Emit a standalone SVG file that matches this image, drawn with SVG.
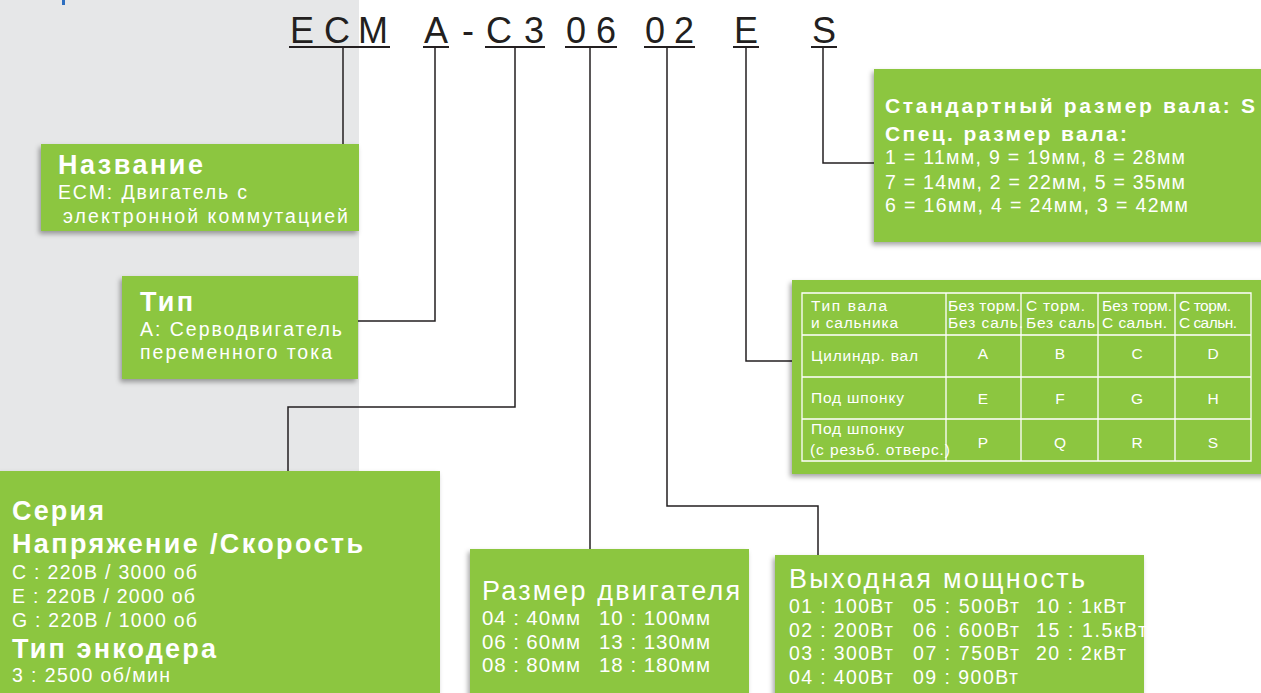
<svg xmlns="http://www.w3.org/2000/svg" width="1261" height="693" viewBox="0 0 1261 693">
<defs>
<filter id="sh" x="-10%" y="-10%" width="120%" height="130%">
<feDropShadow dx="-2" dy="3" stdDeviation="2.5" flood-color="#000" flood-opacity="0.35"/>
</filter>
<style>
.box{fill:#8cc63f;filter:url(#sh);}
.t{font-family:"Liberation Sans",Arial,sans-serif;fill:#fff;}
.b{font-weight:bold;font-size:27px;}
.r{font-size:19.5px;}
.s{font-size:15.5px;}
.code{font-family:"Liberation Sans",Arial,sans-serif;font-size:36px;fill:#231f20;}
.ul{stroke:#231f20;stroke-width:2.2;fill:none;}
.cn{stroke:#231f20;stroke-width:1.5;fill:none;}
.grid{stroke:#fff;stroke-width:1.3;fill:none;}
</style>
</defs>
<rect x="0" y="0" width="1261" height="693" fill="#fff"/>
<rect x="0" y="0" width="359" height="693" fill="#e6e7e8"/>
<rect x="62" y="0" width="3" height="5" fill="#2e6fc0"/>

<g id="code">
<text class="code" x="290 324 358" y="43">ECM</text>
<text class="code" x="424" y="43">A</text>
<text class="code" x="462" y="43">-</text>
<text class="code" x="486 524" y="43">C3</text>
<text class="code" x="566 596" y="43">06</text>
<text class="code" x="645 674" y="43">02</text>
<text class="code" x="734" y="43">E</text>
<text class="code" x="812" y="43">S</text>
<path class="ul" d="M289 47H390M423 47H449M485 47H545M565 47H617M644 47H695M733 47H759M811 47H837"/>
</g>

<g id="connectors">
<path class="cn" d="M343 47V144"/>
<path class="cn" d="M435 47V321H358"/>
<path class="cn" d="M515 47V407H288V471"/>
<path class="cn" d="M590 47V549"/>
<path class="cn" d="M667 47V506H818V555"/>
<path class="cn" d="M746 47V361H792"/>
<path class="cn" d="M823 47V163H874"/>
</g>

<g id="node-name">
<rect class="box" x="41" y="144" width="318" height="87"/>
<text class="t b" x="58" y="174" textLength="145" lengthAdjust="spacing">Название</text>
<text class="t r" x="58" y="199" textLength="189" lengthAdjust="spacing">ECM: Двигатель с</text>
<text class="t r" x="63" y="223" textLength="285" lengthAdjust="spacing">электронной коммутацией</text>
</g>

<g id="node-type">
<rect class="box" x="122" y="276" width="236" height="103"/>
<text class="t b" x="140" y="311" textLength="53" lengthAdjust="spacing">Тип</text>
<text class="t r" x="140" y="336" textLength="202" lengthAdjust="spacing">A: Серводвигатель</text>
<text class="t r" x="140" y="359" textLength="192" lengthAdjust="spacing">переменного тока</text>
</g>

<g id="node-series">
<rect class="box" x="0" y="471" width="440" height="230"/>
<text class="t b" x="12" y="520" textLength="92" lengthAdjust="spacing">Серия</text>
<text class="t b" x="12" y="553" textLength="351" lengthAdjust="spacing">Напряжение /Скорость</text>
<text class="t r" x="12" y="579" textLength="185" lengthAdjust="spacing">C : 220В / 3000 об</text>
<text class="t r" x="12" y="603" textLength="183" lengthAdjust="spacing">E : 220В / 2000 об</text>
<text class="t r" x="12" y="627" textLength="185" lengthAdjust="spacing">G : 220В / 1000 об</text>
<text class="t b" x="12" y="658" textLength="204" lengthAdjust="spacing">Тип энкодера</text>
<text class="t r" x="12" y="682" textLength="158" lengthAdjust="spacing">3 : 2500 об/мин</text>
</g>

<g id="node-size">
<rect class="box" x="470" y="549" width="279" height="150"/>
<text class="t" font-size="27" x="482" y="600" textLength="258" lengthAdjust="spacing">Размер двигателя</text>
<text class="t" font-size="20.5" x="482" y="625" textLength="98" lengthAdjust="spacing">04 : 40мм</text>
<text class="t" font-size="20.5" x="599" y="625" textLength="111" lengthAdjust="spacing">10 : 100мм</text>
<text class="t" font-size="20.5" x="482" y="649" textLength="98" lengthAdjust="spacing">06 : 60мм</text>
<text class="t" font-size="20.5" x="599" y="649" textLength="111" lengthAdjust="spacing">13 : 130мм</text>
<text class="t" font-size="20.5" x="482" y="672" textLength="98" lengthAdjust="spacing">08 : 80мм</text>
<text class="t" font-size="20.5" x="599" y="672" textLength="111" lengthAdjust="spacing">18 : 180мм</text>
</g>

<g id="node-power">
<rect class="box" x="775" y="555" width="369" height="144"/>
<text class="t" font-size="27" x="789" y="588" textLength="296" lengthAdjust="spacing">Выходная мощность</text>
<g font-size="19.5">
<text class="t" x="789" y="613" textLength="104" lengthAdjust="spacing">01 : 100Вт</text>
<text class="t" x="913" y="613" textLength="106" lengthAdjust="spacing">05 : 500Вт</text>
<text class="t" x="1036" y="613" textLength="90" lengthAdjust="spacing">10 : 1кВт</text>
<text class="t" x="789" y="637" textLength="104" lengthAdjust="spacing">02 : 200Вт</text>
<text class="t" x="913" y="637" textLength="106" lengthAdjust="spacing">06 : 600Вт</text>
<text class="t" x="1036" y="637" textLength="111" lengthAdjust="spacing">15 : 1.5кВт</text>
<text class="t" x="789" y="660" textLength="104" lengthAdjust="spacing">03 : 300Вт</text>
<text class="t" x="913" y="660" textLength="106" lengthAdjust="spacing">07 : 750Вт</text>
<text class="t" x="1036" y="660" textLength="90" lengthAdjust="spacing">20 : 2кВт</text>
<text class="t" x="789" y="684" textLength="104" lengthAdjust="spacing">04 : 400Вт</text>
<text class="t" x="913" y="684" textLength="105" lengthAdjust="spacing">09 : 900Вт</text>
</g>
</g>

<g id="node-shaft">
<rect class="box" x="874" y="69" width="400" height="173"/>
<text class="t" font-weight="bold" font-size="21" x="885" y="113" textLength="370" lengthAdjust="spacing">Стандартный размер вала: S</text>
<text class="t" font-weight="bold" font-size="21" x="885" y="141" textLength="242" lengthAdjust="spacing">Спец. размер вала:</text>
<g font-size="19.5">
<text class="t" x="885" y="164" textLength="300" lengthAdjust="spacing">1 = 11мм, 9 = 19мм, 8 = 28мм</text>
<text class="t" x="885" y="189" textLength="300" lengthAdjust="spacing">7 = 14мм, 2 = 22мм, 5 = 35мм</text>
<text class="t" x="885" y="212" textLength="303" lengthAdjust="spacing">6 = 16мм, 4 = 24мм, 3 = 42мм</text>
</g>
</g>

<g id="node-table">
<rect class="box" x="792" y="280" width="480" height="194"/>
<path class="grid" d="M802 293H1251V461H802ZM802 335H1251M802 377H1251M802 419H1251M946 293V461M1021 293V461M1098 293V461M1175 293V461"/>
<text class="t s" x="811" y="311" textLength="76" lengthAdjust="spacing">Тип вала</text>
<text class="t s" x="811" y="328" textLength="87" lengthAdjust="spacing">и сальника</text>
<text class="t s" x="948" y="311" textLength="72" lengthAdjust="spacing">Без торм.</text>
<text class="t s" x="948" y="328" textLength="75" lengthAdjust="spacing">Без саль.</text>
<text class="t s" x="1026" y="311" textLength="59" lengthAdjust="spacing">С торм.</text>
<text class="t s" x="1026" y="328" textLength="69" lengthAdjust="spacing">Без саль</text>
<text class="t s" x="1102" y="311" textLength="70" lengthAdjust="spacing">Без торм.</text>
<text class="t s" x="1102" y="328" textLength="65" lengthAdjust="spacing">С сальн.</text>
<text class="t s" x="1179" y="311" textLength="52" lengthAdjust="spacing">С торм.</text>
<text class="t s" x="1179" y="328" textLength="58" lengthAdjust="spacing">С сальн.</text>
<text class="t s" x="811" y="361" textLength="107" lengthAdjust="spacing">Цилиндр. вал</text>
<text class="t s" x="811" y="403" textLength="93" lengthAdjust="spacing">Под шпонку</text>
<text class="t s" x="811" y="434" textLength="93" lengthAdjust="spacing">Под шпонку</text>
<text class="t s" x="810" y="455" textLength="140" lengthAdjust="spacing">(с резьб. отверс.)</text>
<g text-anchor="middle">
<text class="t s" x="983" y="359">A</text>
<text class="t s" x="1060" y="359">B</text>
<text class="t s" x="1137" y="359">C</text>
<text class="t s" x="1213" y="359">D</text>
<text class="t s" x="983" y="404">E</text>
<text class="t s" x="1060" y="404">F</text>
<text class="t s" x="1137" y="404">G</text>
<text class="t s" x="1213" y="404">H</text>
<text class="t s" x="983" y="448">P</text>
<text class="t s" x="1060" y="448">Q</text>
<text class="t s" x="1137" y="448">R</text>
<text class="t s" x="1213" y="448">S</text>
</g>
</g>
</svg>
